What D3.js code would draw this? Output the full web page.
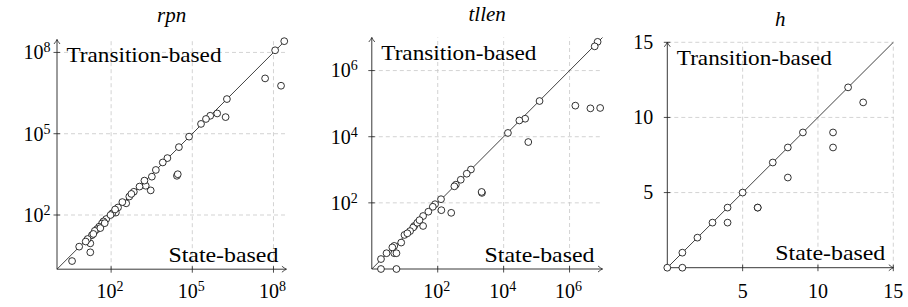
<!DOCTYPE html>
<html>
<head>
<meta charset="utf-8">
<script src="https://cdn.jsdelivr.net/npm/d3@7"></script>
</head>
<body style="margin:0">
<svg id="chart" width="908" height="307"></svg>
<script>
// rpn: state-based (x) vs transition-based (y)
const rpnState = [2.5e8, 1.15e8, 4.9e7, 1.9e8, 1.9e6, 1.7e6, 8.3e5, 4.6e5, 3.2e5, 2.1e5,
  7.6e4, 3.2e4, 2.7e4, 2.9e4, 1.2e4, 8100, 4500, 3200, 2900, 1900, 1700, 1120, 690, 470,
  360, 260, 180, 150, 110, 66, 52, 46, 36, 30, 25, 19.5, 17, 17, 13.5, 11.5, 6.6, 3.6,
  22, 40, 58, 95, 140, 560];
const rpnTrans = [2.6e8, 1.2e8, 1.1e7, 5.9e6, 1.9e6, 4.1e5, 5.6e5, 4.6e5, 3.5e5, 2.3e5,
  7.8e4, 3.2e4, 2800, 3200, 1.26e4, 8700, 4600, 2600, 810, 1200, 1860, 1120, 720, 480,
  270, 300, 190, 123, 115, 71, 58, 49, 37, 30, 26, 18, 9, 4.2, 13, 10.5, 6.8, 2,
  20, 33, 50, 100, 160, 600];

// tllen
const tllenState = [7.1e6, 5.8e6, 1.5e6, 4.3e6, 8.5e6, 1.23e5, 4.5e4, 3e4, 5.6e4, 1.35e4,
  1020, 760, 500, 355, 320, 2200, 2150, 126, 129, 257, 83, 71, 52, 36, 36, 19.5, 18,
  14.5, 9.8, 7.8, 4.8, 4.8, 5.6, 2.8, 1.9, 1.9, 5.6, 4.2, 12, 24, 28];
const tllenTrans = [7.4e6, 5.4e6, 8.7e4, 7.2e4, 7.4e4, 1.2e5, 3.5e4, 3.1e4, 6900, 1.3e4,
  1020, 760, 500, 355, 316, 200, 214, 129, 60, 50, 91, 76, 54, 40, 20, 20, 18,
  14, 10.7, 6.3, 5, 3, 3, 3, 2, 1, 1, 4.5, 12, 25, 30];

// h (linear)
const hState = [0, 1, 1, 2, 3, 4, 4, 5, 6, 6, 7, 8, 8, 9, 11, 11, 12, 13];
const hTrans = [0, 0, 1, 2, 3, 4, 3, 5, 4, 4, 7, 8, 6, 9, 9, 8, 12, 11];

const rpnTicks = [1e2, 1e5, 1e8];
const rpnTickExp = ["2", "5", "8"];
const tllenTicks = [1e2, 1e4, 1e6];
const tllenTickExp = ["2", "4", "6"];
const hTicks = [5, 10, 15];

const titles = ["rpn", "tllen", "h"];

const svg = d3.select("#chart");

// arrow head like pgf "->"
svg.append("defs").append("marker")
  .attr("id", "arrow")
  .attr("markerUnits", "userSpaceOnUse")
  .attr("viewBox", "-6 -4 8 8")
  .attr("refX", 0).attr("refY", 0)
  .attr("markerWidth", 8).attr("markerHeight", 8)
  .attr("orient", "auto")
  .append("path")
  .attr("d", "M-4.5,-3 Q-1.5,-0.6 0,0 Q-1.5,0.6 -4.5,3")
  .attr("fill", "none")
  .attr("stroke", "#222")
  .attr("stroke-width", 0.8);

// texts go straight on the svg root
function addText() {
  return svg.append("text")
    .attr("font-family", "Times New Roman")
    .attr("fill", "#000");
}

function drawPanel(p) {
  const g = svg.append("g");
  const x = p.x, y = p.y;
  const [x0, x1] = x.range();
  const [y0, y1] = y.range();

  // grid
  g.selectAll(".vgrid").data(p.ticks).enter().append("line")
    .attr("x1", d => x(d)).attr("x2", d => x(d))
    .attr("y1", y0).attr("y2", y1)
    .attr("stroke", "#c8c8c8").attr("stroke-width", 0.8)
    .attr("stroke-dasharray", "4,3");
  g.selectAll(".hgrid").data(p.ticks).enter().append("line")
    .attr("y1", d => y(d)).attr("y2", d => y(d))
    .attr("x1", x0).attr("x2", x1)
    .attr("stroke", "#c8c8c8").attr("stroke-width", 0.8)
    .attr("stroke-dasharray", "4,3");

  // diagonal
  const dom = x.domain();
  g.append("line")
    .attr("x1", x(dom[0])).attr("y1", y(dom[0]))
    .attr("x2", x(dom[1])).attr("y2", y(dom[1]))
    .attr("stroke", "#111").attr("stroke-width", 0.8);

  // ticks
  g.selectAll(".xt").data(p.ticks).enter().append("line")
    .attr("x1", d => x(d)).attr("x2", d => x(d))
    .attr("y1", y0 - 3).attr("y2", y0 + 3.5)
    .attr("stroke", "#222").attr("stroke-width", 0.8);
  g.selectAll(".yt").data(p.ticks).enter().append("line")
    .attr("y1", d => y(d)).attr("y2", d => y(d))
    .attr("x1", x0 - 3.5).attr("x2", x0 + 3)
    .attr("stroke", "#222").attr("stroke-width", 0.8);

  // axes with arrows
  g.append("line")
    .attr("x1", x0).attr("y1", y0).attr("x2", x1).attr("y2", y0)
    .attr("stroke", "#222").attr("stroke-width", 0.9)
    .attr("marker-end", "url(#arrow)");
  g.append("line")
    .attr("x1", x0).attr("y1", y0).attr("x2", x0).attr("y2", y1)
    .attr("stroke", "#222").attr("stroke-width", 0.9)
    .attr("marker-end", "url(#arrow)");

  // points
  g.selectAll("circle").data(p.state).enter().append("circle")
    .attr("cx", d => x(d))
    .attr("cy", (d, i) => y(p.trans[i]))
    .attr("r", 3.4)
    .attr("fill", "#fff")
    .attr("stroke", "#000")
    .attr("stroke-width", 0.8);

  // tick labels
  p.ticks.forEach((d, i) => {
    const xl = addText()
      .attr("x", x(d) - (p.exp ? 1 : 0))
      .attr("y", 298)
      .attr("text-anchor", "middle")
      .attr("font-size", 20);
    const yl = addText()
      .attr("x", x0 - p.ylGap)
      .attr("y", y(d) + 6.8)
      .attr("text-anchor", "end")
      .attr("font-size", 20);
    [xl, yl].forEach(t => {
      if (p.exp) {
        t.append("tspan").text("10");
        t.append("tspan").attr("dy", -7).attr("font-size", 14).text(p.exp[i]);
      } else {
        t.text(d);
      }
    });
  });

  // corner labels
  addText()
    .attr("x", x0 + 9.5).attr("y", y1 + 22.5)
    .attr("font-size", 21)
    .attr("textLength", 155).attr("lengthAdjust", "spacingAndGlyphs")
    .text("Transition-based");
  addText()
    .attr("x", x1 - 8 - 110).attr("y", y0 - 7.5)
    .attr("font-size", 21)
    .attr("textLength", 110).attr("lengthAdjust", "spacingAndGlyphs")
    .text("State-based");

  // title
  addText()
    .attr("x", (x0 + x1) / 2).attr("y", p.titleY)
    .attr("text-anchor", "middle")
    .attr("font-size", 21)
    .attr("font-style", "italic")
    .text(p.title);
}

drawPanel({
  x: d3.scaleLog().domain([1, 3e8]).range([57, 286.4]),
  y: d3.scaleLog().domain([1, 3e8]).range([269.2, 39.5]),
  ticks: rpnTicks, exp: rpnTickExp,
  state: rpnState, trans: rpnTrans,
  ylGap: 6.5, title: titles[0], titleY: 21.5
});

drawPanel({
  x: d3.scaleLog().domain([1, 1e7]).range([371.8, 602.5]),
  y: d3.scaleLog().domain([1, 1e7]).range([269, 37.5]),
  ticks: tllenTicks, exp: tllenTickExp,
  state: tllenState, trans: tllenTrans,
  ylGap: 14, title: titles[1], titleY: 20.5
});

drawPanel({
  x: d3.scaleLinear().domain([0, 15]).range([667.3, 893.3]),
  y: d3.scaleLinear().domain([0, 15]).range([267.7, 42.3]),
  ticks: hTicks, exp: null,
  state: hState, trans: hTrans,
  ylGap: 14, title: titles[2], titleY: 26
});
</script>
</body>
</html>
